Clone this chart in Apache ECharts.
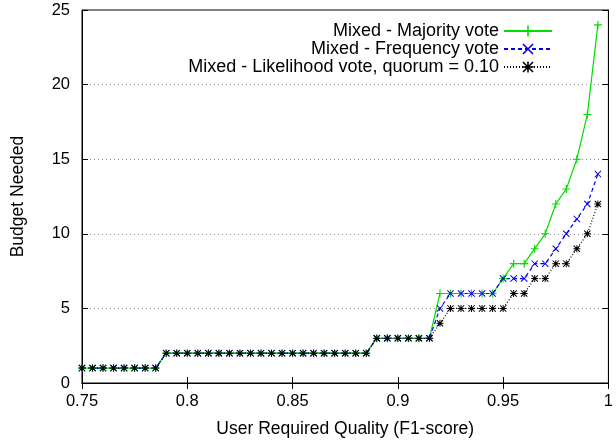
<!DOCTYPE html>
<html><head><meta charset="utf-8">
<script src="https://cdn.jsdelivr.net/npm/echarts@6/dist/echarts.min.js"></script>
<style>html,body{margin:0;padding:0;background:#fff}#c{width:616px;height:443px}</style>
</head><body><div id="c"></div>
<script>
var quality = [0.75,0.755,0.76,0.765,0.77,0.775,0.78,0.785,0.79,0.795,
  0.8,0.805,0.81,0.815,0.82,0.825,0.83,0.835,0.84,0.845,
  0.85,0.855,0.86,0.865,0.87,0.875,0.88,0.885,0.89,0.895,
  0.9,0.905,0.91,0.915,0.92,0.925,0.93,0.935,0.94,0.945,
  0.95,0.955,0.96,0.965,0.97,0.975,0.98,0.985,0.99,0.995];
var majority = [1,1,1,1,1,1,1,1,2,2, 2,2,2,2,2,2,2,2,2,2, 2,2,2,2,2,2,2,2,3,3, 3,3,3,3,6,6,6,6,6,6, 7,8,8,9,10,12,13,15,18,24];
var frequency = [1,1,1,1,1,1,1,1,2,2, 2,2,2,2,2,2,2,2,2,2, 2,2,2,2,2,2,2,2,3,3, 3,3,3,3,5,6,6,6,6,6, 7,7,7,8,8,9,10,11,12,14];
var likelihood = [1,1,1,1,1,1,1,1,2,2, 2,2,2,2,2,2,2,2,2,2, 2,2,2,2,2,2,2,2,3,3, 3,3,3,3,4,5,5,5,5,5, 5,6,6,7,7,8,8,9,10,12];
var seriesNames = ['Mixed - Majority vote','Mixed - Frequency vote','Mixed - Likelihood vote, quorum = 0.10'];

var PLUS = 'path://M4.3,0H5.7V4.3H10V5.7H5.7V10H4.3V5.7H0V4.3H4.3Z';
var CROSS = 'path://M0,1L1,0L10,9L9,10Z M9,0L10,1L1,10L0,9Z';
var STAR = 'path://M4.3,0H5.7V4.3H10V5.7H5.7V10H4.3V5.7H0V4.3H4.3Z M0,1L1,0L10,9L9,10Z M9,0L10,1L1,10L0,9Z';

function pairs(ys){ return quality.map(function(x,i){return [x, ys[i]];}); }
var font = 'Liberation Sans';
var tickFont = 16.5, nameFont = 17.5, legendFont = 18;
var chart = echarts.init(document.getElementById('c'), null, {renderer:'canvas'});
chart.setOption({
  animation:false,
  textStyle:{fontFamily:font},
  grid:{left:82,right:2,top:10,bottom:60,show:true,borderColor:'#000',borderWidth:1},
  legend:{
    orient:'vertical', right:58, top:17, align:'right',
    itemWidth:48, itemHeight:14, itemGap:0,
    textStyle:{fontSize:legendFont,color:'#000',fontFamily:font,lineHeight:17.3},
    data:seriesNames
  },
  xAxis:[{
    type:'value', min:0.75, max:1.0, interval:0.05,
    name:'User Required Quality (F1-score)', nameLocation:'middle', nameGap:37,
    nameTextStyle:{fontSize:nameFont,color:'#000',fontFamily:font},
    axisLine:{lineStyle:{color:'#000'}},
    axisTick:{inside:true,length:6,lineStyle:{color:'#000'}},
    axisLabel:{fontSize:tickFont,color:'#000',margin:10,fontFamily:font,formatter:function(v){return String(+v.toFixed(2));}},
    splitLine:{show:false}
  },{
    type:'value', position:'top', min:0.75, max:1.0, interval:0.05,
    axisLine:{lineStyle:{color:'#000'}},
    axisTick:{inside:true,length:6,lineStyle:{color:'#000'}},
    axisLabel:{show:false}, splitLine:{show:false}
  }],
  yAxis:[{
    type:'value', min:0, max:25, interval:5,
    name:'Budget Needed', nameLocation:'middle', nameGap:55, nameRotate:90,
    nameTextStyle:{fontSize:nameFont,color:'#000',fontFamily:font},
    axisLine:{show:true,lineStyle:{color:'#000'}},
    axisTick:{show:true,inside:true,length:6,lineStyle:{color:'#000'}},
    axisLabel:{fontSize:tickFont,color:'#000',margin:12,fontFamily:font},
    splitLine:{show:true,lineStyle:{color:'#888',type:[1,3],width:1}}
  },{
    type:'value', position:'right', min:0, max:25, interval:5,
    axisLine:{show:true,lineStyle:{color:'#000'}},
    axisTick:{show:true,inside:true,length:6,lineStyle:{color:'#000'}},
    axisLabel:{show:false}, splitLine:{show:false}
  }],
  series:[
    {name:seriesNames[0], type:'line', data:pairs(majority), symbol:PLUS, symbolSize:8, showAllSymbol:true,
     lineStyle:{color:'#00dd00',width:1.2,type:'solid'}, itemStyle:{color:'#00dd00'}},
    {name:seriesNames[1], type:'line', data:pairs(frequency), symbol:CROSS, symbolSize:7, showAllSymbol:true,
     lineStyle:{color:'#0000ee',width:1.2,type:[4,3]}, itemStyle:{color:'#0000ee'}},
    {name:seriesNames[2], type:'line', data:pairs(likelihood), symbol:STAR, symbolSize:7, showAllSymbol:true,
     lineStyle:{color:'#000',width:1.2,type:[1,2]}, itemStyle:{color:'#000'}}
  ]
});
</script></body></html>
